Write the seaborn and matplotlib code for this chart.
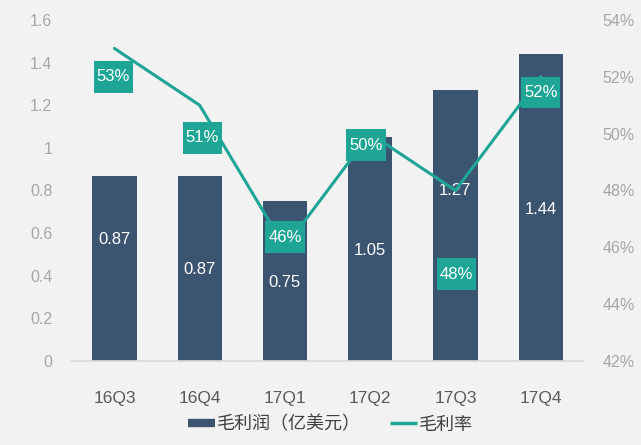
import numpy as np
import pandas as pd
import matplotlib
matplotlib.use("Agg")
import matplotlib.pyplot as plt
from matplotlib.lines import Line2D
from matplotlib.path import Path
from matplotlib.ticker import FuncFormatter
import seaborn as sns

quarters = ["16Q3", "16Q4", "17Q1", "17Q2", "17Q3", "17Q4"]
gross_profit = [0.87, 0.87, 0.75, 1.05, 1.27, 1.44]
gross_margin = [53, 51, 46, 50, 48, 52]
margin_labels = ["53%", "51%", "46%", "50%", "48%", "52%"]

# label placement (data units), hand placed like the original
profit_label_y = [0.57, 0.43, 0.37, 0.52, 0.80, 0.71]
margin_label_x = [-0.01, 0.03, 0.0, -0.05, 0.01, 0.0]
margin_label_y = [52.0, 49.85, 46.35, 49.6, 45.05, 51.45]

bar_color = "#3b5571"
line_color = "#1ea596"
bg = "#f2f2f2"

sns.set_theme(style="white")
plt.rcParams["font.family"] = ["Liberation Sans", "Noto Sans CJK SC", "DejaVu Sans"]


def label_box(x0, y0, width, height, mutation_size):
    # excel style box: little side padding, more top/bottom padding
    px = 0.18 * mutation_size
    py = 0.5 * mutation_size
    x0, y0 = x0 - px, y0 - py
    x1, y1 = x0 + width + 2 * px, y0 + height + 2 * py
    return Path([(x0, y0), (x1, y0), (x1, y1), (x0, y1), (x0, y0)], closed=True)


df = pd.DataFrame({"quarter": quarters, "profit": gross_profit, "margin": gross_margin})

fig = plt.figure(figsize=(6.41, 4.45), dpi=100, facecolor=bg)
ax = fig.add_axes([0.112, 0.189, 0.798, 0.766])
ax.set_facecolor(bg)

sns.barplot(data=df, x="quarter", y="profit", color=bar_color, width=0.52,
            saturation=1, linewidth=0, ax=ax)
ax.set_ylim(0, 1.6)
ax.set_xlim(-0.5, 5.5)
ax.set_yticks(np.arange(0, 1.61, 0.2))
ax.yaxis.set_major_formatter(FuncFormatter(lambda v, p: f"{v:g}"))
ax.set_xlabel("")
ax.set_ylabel("")
for s in ["top", "left", "right"]:
    ax.spines[s].set_visible(False)
ax.spines["bottom"].set_color("#d9d9d9")
ax.tick_params(axis="y", length=0, pad=14, labelsize=11.5, labelcolor="#a6a6a6")
ax.tick_params(axis="x", length=0, pad=22, labelsize=12.5, labelcolor="#595959")

for i, v in enumerate(gross_profit):
    ax.text(i, profit_label_y[i], f"{v:.2f}", color="white", fontsize=12,
            ha="center", va="center")

ax2 = ax.twinx()
sns.lineplot(x=np.arange(len(quarters)), y=gross_margin, color=line_color,
             linewidth=2.2, ax=ax2)
ax2.set_ylim(42, 54)
ax2.set_yticks(np.arange(42, 54.1, 2))
ax2.yaxis.set_major_formatter(FuncFormatter(lambda v, p: f"{v:.0f}%"))
for s in ax2.spines.values():
    s.set_visible(False)
ax2.tick_params(axis="y", length=0, pad=14, labelsize=11.5, labelcolor="#a6a6a6")

for i, lab in enumerate(margin_labels):
    ax2.text(i + margin_label_x[i], margin_label_y[i], lab, color="white",
             fontsize=12, ha="center", va="center",
             bbox=dict(boxstyle=label_box, fc=line_color, ec="none"))

handles = [Line2D([0], [0], color=bar_color, lw=6, solid_capstyle="butt"),
           Line2D([0], [0], color=line_color, lw=2.5, solid_capstyle="butt")]
fig.legend(handles, ["毛利润（亿美元）", "毛利率"], loc="center",
           bbox_to_anchor=(0.515, 0.045), ncol=2, frameon=False,
           fontsize=13, handlelength=1.5, handletextpad=0.1,
           columnspacing=1.6, labelcolor="#404040")

fig.savefig("out.png", dpi=100, facecolor=bg)
